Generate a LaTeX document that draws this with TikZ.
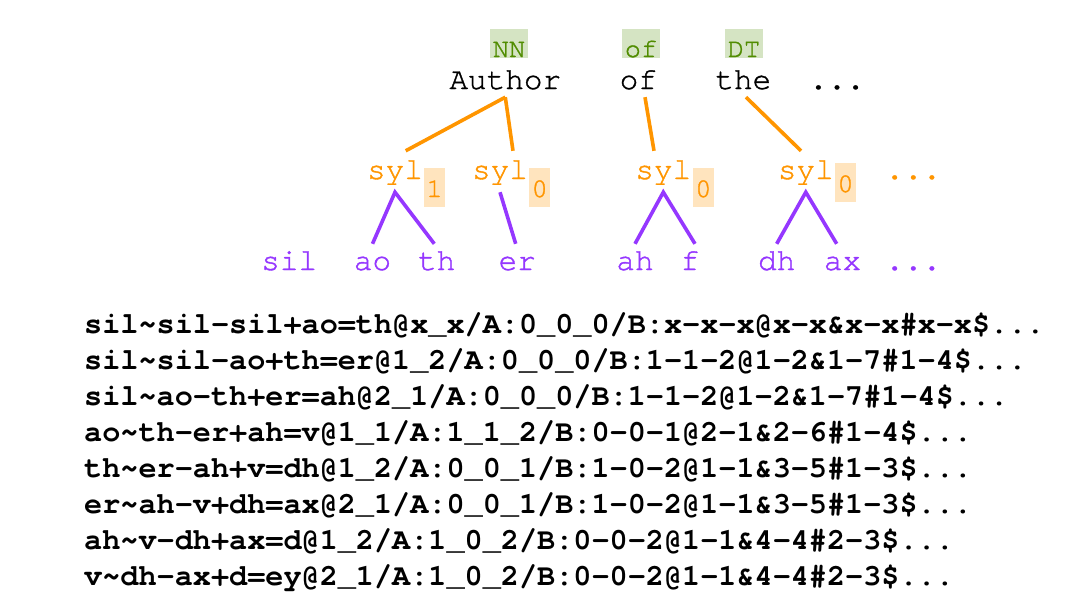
\documentclass[tikz,border=0pt]{standalone}
\usepackage{fontspec}
\setmonofont{texgyrecursor}[Extension=.otf, UprightFont=*-regular, BoldFont=*-bold, UprightFeatures={FakeBold=1.2}]
\definecolor{sylorange}{RGB}{255,149,0}
\definecolor{sylbg}{RGB}{255,228,190}
\definecolor{phonepurple}{RGB}{149,55,255}
\definecolor{taggreen}{RGB}{80,140,0}
\definecolor{tagbg}{RGB}{213,228,195}
\begin{document}
\begin{tikzpicture}[x=1pt, y=-1pt,
  word/.style={anchor=base, font=\ttfamily\fontsize{31pt}{36pt}\selectfont, inner xsep=0pt, inner ysep=8pt, text height=20pt, text depth=0pt},
  tag/.style={anchor=base, font=\ttfamily\fontsize{27pt}{30pt}\selectfont, text=taggreen, fill=tagbg, inner xsep=2.5pt, inner ysep=0pt, text height=28pt, text depth=1pt},
  syl/.style={word, text=sylorange, text depth=5pt},
  sub/.style={tag, text=sylorange, fill=sylbg, text height=29pt, text depth=10pt},
  phone/.style={word, text=phonepurple, inner ysep=6pt},
  ctxline/.style={anchor=base west, font=\ttfamily\bfseries\fontsize{30.2pt}{36pt}\selectfont, inner sep=0pt},
  toword/.style={draw=sylorange, line width=3.6pt},
  tophone/.style={draw=phonepurple, line width=3.6pt}]
\newcommand\tld{\textasciitilde}
\useasboundingbox (0,0) rectangle (1066,598);

% words and their tags
\node (nn) at (509, 57) [tag] {NN};
\node (ofp) at (641, 57) [tag] {of};
\node (dt) at (744, 57) [tag] {DT};
\node (author) at (505.3, 89) [word] {Author};
\node (of) at (638.3, 89) [word] {of};
\node (the) at (743.3, 89) [word] {the};
\node (wdots) at (837, 89) [word] {...};

% syllables
\node (syla) at (395, 179) [syl] {syl};
\node (sylb) at (500, 179) [syl] {syl};
\node (sylc) at (663.3, 179) [syl] {syl};
\node (syld) at (805.8, 179) [syl] {syl};
\node (syldots) at (913.3, 179) [syl] {...};
\node (suba) at (434.5, 197) [sub] {1};
\node (subb) at (539.7, 197) [sub] {0};
\node (subc) at (703.3, 197) [sub] {0};
\node (subd) at (845.5, 192) [sub] {0};

% phonemes
\node (sil) at (289.2, 270) [phone] {sil};
\node (ao) at (372.5, 270) [phone] {ao};
\node (th) at (436.7, 270) [phone] {th};
\node (er) at (517.2, 270) [phone] {er};
\node (ah) at (635, 270) [phone] {ah};
\node (f) at (690, 270) [phone] {f};
\node (dh) at (776.7, 270) [phone] {dh};
\node (ax) at (842.5, 270) [phone] {ax};
\node (pdots) at (913.3, 270) [phone] {...};

\draw [toword] (author.south) -- ([xshift=10.7pt]syla.north);
\draw [toword] (author.south) -- ([xshift=13pt]sylb.north);
\draw [toword] ([xshift=6.7pt]of.south) -- ([xshift=-9.3pt]sylc.north);
\draw [toword] ([xshift=2.7pt]the.south) -- ([xshift=-4.8pt]syld.north);

\draw [tophone] (ao.north) -- (syla.south) -- ([xshift=-2.4pt]th.north);
\draw [tophone] (sylb.south) -- ([xshift=-1.5pt]er.north);
\draw [tophone] (ah.north) -- (sylc.south) -- ([xshift=5pt]f.north);
\draw [tophone] (dh.north) -- (syld.south) -- ([xshift=-5.8pt]ax.north);

% context labels
\node (ctxa) at (84, 333.5) [ctxline] {sil\tld sil-sil+ao=th@x\_x/A:0\_0\_0/B:x-x-x@x-x\&x-x\#x-x\$...};
\node (ctxb) at (84, 369.5) [ctxline] {sil\tld sil-ao+th=er@1\_2/A:0\_0\_0/B:1-1-2@1-2\&1-7\#1-4\$...};
\node (ctxc) at (84, 405.4) [ctxline] {sil\tld ao-th+er=ah@2\_1/A:0\_0\_0/B:1-1-2@1-2\&1-7\#1-4\$...};
\node (ctxd) at (84, 441.4) [ctxline] {ao\tld th-er+ah=v@1\_1/A:1\_1\_2/B:0-0-1@2-1\&2-6\#1-4\$...};
\node (ctxe) at (84, 477.3) [ctxline] {th\tld er-ah+v=dh@1\_2/A:0\_0\_1/B:1-0-2@1-1\&3-5\#1-3\$...};
\node (ctxf) at (84, 513.3) [ctxline] {er\tld ah-v+dh=ax@2\_1/A:0\_0\_1/B:1-0-2@1-1\&3-5\#1-3\$...};
\node (ctxg) at (84, 549.2) [ctxline] {ah\tld v-dh+ax=d@1\_2/A:1\_0\_2/B:0-0-2@1-1\&4-4\#2-3\$...};
\node (ctxh) at (84, 585.2) [ctxline] {v\tld dh-ax+d=ey@2\_1/A:1\_0\_2/B:0-0-2@1-1\&4-4\#2-3\$...};
\end{tikzpicture}
\end{document}
